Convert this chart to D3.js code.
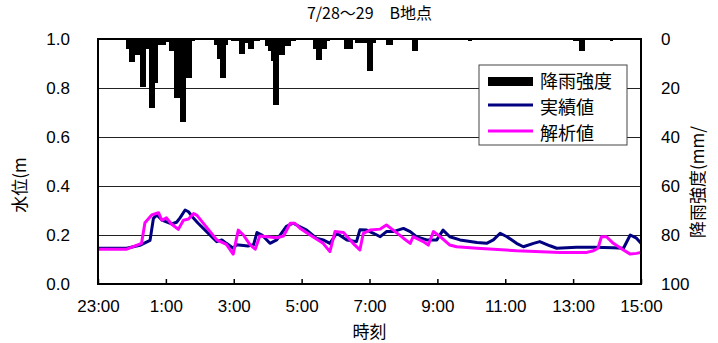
<!DOCTYPE html>
<html>
<head>
<meta charset="utf-8">
<script src="https://cdnjs.cloudflare.com/ajax/libs/d3/7.8.5/d3.min.js"></script>
<style>
  body { margin: 0; background: #fff; }
  svg { display: block; }
  .jp { font-family: "Noto Sans CJK JP", sans-serif; }
</style>
</head>
<body>
<div class="chart"></div>
<script>
/* global d3 */
const title = "7/28～29　B地点";

// x axis tick labels (every 2 hours)
const timeTicks = ["23:00", "1:00", "3:00", "5:00", "7:00", "9:00", "11:00", "13:00", "15:00"];
const levelTicks = [0, 0.2, 0.4, 0.6, 0.8, 1.0];
const rainTicks = [0, 20, 40, 60, 80, 100];

// rainfall intensity (mm/h), 5 minute blocks, only non-zero ones
const rainTimes = ["23:50", "23:55", "0:00", "0:05", "0:10", "0:15", "0:20", "0:25", "0:30", "0:35",
  "0:40", "0:45", "0:50", "0:55", "1:00", "1:05", "1:10", "1:15", "1:20", "1:25",
  "1:30", "1:35", "1:40", "1:45", "1:50", "2:25", "2:30", "2:35", "2:40", "2:45",
  "2:55", "3:00", "3:05", "3:10", "3:15", "3:20", "3:25", "3:30", "3:35", "3:40",
  "3:55", "4:00", "4:05", "4:10", "4:15", "4:20", "4:25", "4:30", "4:35", "4:40",
  "4:45", "5:20", "5:25", "5:30", "5:35", "5:40", "5:45", "6:15", "6:20", "6:25",
  "6:35", "6:40", "6:45", "6:50", "6:55", "7:00", "7:05", "7:30", "7:35", "8:15",
  "8:20", "9:55", "13:00", "13:05", "13:10", "13:15", "14:05"];
const rainMm = [4, 9.5, 9.5, 6.5, 6.5, 19.5, 19.5, 4, 28, 28,
  18, 2.5, 2.5, 2.5, 1.4, 5, 5, 24, 24, 34,
  34, 16, 16, 1, 0.5, 2.5, 8, 16, 16, 2.5,
  1, 1, 1, 6, 6, 1.5, 4, 4, 1, 1,
  3, 5, 9, 27, 27, 6.5, 6.5, 3, 3, 1,
  1, 4, 8.5, 8.5, 4, 4, 1, 4, 4, 4,
  1.5, 1.5, 1.5, 1.5, 13, 13, 1.5, 2.5, 2.5, 5,
  5, 1, 1, 1, 5, 5, 1];

// observed water level (m)
const obsTimes = ["23:00", "23:51", "0:14", "0:32", "0:38", "0:44", "0:53", "1:10", "1:19", "1:25",
  "1:34", "1:40", "1:49", "1:57", "2:12", "2:30", "2:39", "2:47", "2:59", "3:05",
  "3:25", "3:35", "3:41", "3:50", "4:04", "4:16", "4:33", "4:45", "5:09", "5:26",
  "5:38", "5:50", "6:02", "6:20", "6:37", "6:43", "6:55", "7:07", "7:19", "7:30",
  "7:42", "8:00", "8:12", "8:23", "8:41", "8:59", "9:10", "9:22", "9:40", "10:10",
  "10:27", "10:39", "10:51", "11:03", "11:20", "11:32", "11:50", "12:01", "12:19", "12:31",
  "13:06", "13:36", "14:11", "14:29", "14:41", "14:52", "15:00"];
const obsLevel = [0.146, 0.146, 0.158, 0.178, 0.268, 0.282, 0.261, 0.245, 0.252, 0.27,
  0.302, 0.295, 0.268, 0.248, 0.214, 0.173, 0.18, 0.166, 0.146, 0.16,
  0.155, 0.16, 0.21, 0.2, 0.166, 0.18, 0.235, 0.248, 0.22, 0.187,
  0.18, 0.166, 0.207, 0.18, 0.173, 0.221, 0.22, 0.207, 0.193, 0.214,
  0.214, 0.227, 0.214, 0.193, 0.18, 0.18, 0.22, 0.193, 0.18, 0.169,
  0.166, 0.18, 0.207, 0.193, 0.166, 0.152, 0.166, 0.173, 0.156, 0.146,
  0.15, 0.15, 0.148, 0.146, 0.2, 0.187, 0.166];

// simulated water level (m)
const simTimes = ["23:00", "23:51", "0:17", "0:23", "0:35", "0:47", "0:53", "1:01", "1:10", "1:22",
  "1:31", "1:40", "1:49", "1:55", "2:30", "2:47", "2:59", "3:08", "3:17", "3:29",
  "3:38", "3:46", "4:16", "4:28", "4:40", "4:48", "4:57", "5:15", "5:38", "5:50",
  "5:59", "6:14", "6:31", "6:43", "6:49", "7:01", "7:19", "7:30", "7:42", "8:00",
  "8:12", "8:17", "8:35", "8:44", "8:53", "9:05", "9:22", "9:34", "10:10", "11:20",
  "12:37", "13:24", "13:36", "13:44", "13:50", "13:59", "14:11", "14:29", "14:41", "14:52",
  "15:00"];
const simLevel = [0.142, 0.142, 0.166, 0.25, 0.282, 0.291, 0.26, 0.27, 0.245, 0.223,
  0.26, 0.265, 0.288, 0.28, 0.18, 0.162, 0.122, 0.22, 0.2, 0.16,
  0.142, 0.196, 0.189, 0.196, 0.248, 0.248, 0.228, 0.2, 0.166, 0.132,
  0.214, 0.21, 0.166, 0.139, 0.207, 0.22, 0.224, 0.241, 0.22, 0.187,
  0.166, 0.193, 0.173, 0.159, 0.214, 0.193, 0.159, 0.152, 0.146, 0.136,
  0.129, 0.129, 0.136, 0.146, 0.193, 0.193, 0.166, 0.139, 0.122, 0.125,
  0.129];

// "H:MM" -> Date, 23:xx is the 28th, the rest the 29th
const toDate = (s) => {
  const [h, m] = s.split(":").map(Number);
  return new Date(2000, 6, h >= 23 ? 28 : 29, h, m);
};

const width = 718, height = 343;
const margin = {top: 39, right: 77, bottom: 59, left: 98};
const plotW = width - margin.left - margin.right;
const plotH = height - margin.top - margin.bottom;

const svg = d3.select(".chart").append("svg")
    .attr("width", width)
    .attr("height", height);

const x = d3.scaleTime()
    .domain([toDate("23:00"), toDate("15:00")])
    .range([margin.left, margin.left + plotW]);
const yL = d3.scaleLinear().domain([0, 1]).range([margin.top + plotH, margin.top]);
const yR = d3.scaleLinear().domain([0, 100]).range([margin.top, margin.top + plotH]);

// grid lines
svg.append("g")
    .selectAll("line")
    .data(levelTicks.slice(1))
  .enter().append("line")
    .attr("x1", margin.left).attr("x2", margin.left + plotW)
    .attr("y1", d => Math.round(yL(d)) + 0.5).attr("y2", d => Math.round(yL(d)) + 0.5)
    .attr("stroke", "#222")
    .attr("stroke-width", 1);

// rain bars hanging from the top
const rain = rainTimes.map((t, i) => ({t: toDate(t), v: rainMm[i]}));
svg.append("g")
    .attr("shape-rendering", "crispEdges")
    .selectAll("rect")
    .data(rain)
  .enter().append("rect")
    .attr("x", d => x(d.t))
    .attr("width", d => x(d3.timeMinute.offset(d.t, 5)) - x(d.t) + 0.4)
    .attr("y", yR(0))
    .attr("height", d => yR(d.v) - yR(0))
    .attr("fill", "#000");

// water level lines
const line = d3.line()
    .x(d => x(d.t))
    .y(d => yL(d.v));

const obs = obsTimes.map((t, i) => ({t: toDate(t), v: obsLevel[i]}));
const sim = simTimes.map((t, i) => ({t: toDate(t), v: simLevel[i]}));

svg.append("path")
    .datum(obs)
    .attr("d", line)
    .attr("fill", "none")
    .attr("stroke", "#000080")
    .attr("stroke-width", 3)
    .attr("stroke-linejoin", "round");

svg.append("path")
    .datum(sim)
    .attr("d", line)
    .attr("fill", "none")
    .attr("stroke", "#ff00ff")
    .attr("stroke-width", 3)
    .attr("stroke-linejoin", "round");

// plot frame
svg.append("rect")
    .attr("x", margin.left).attr("y", margin.top)
    .attr("width", plotW).attr("height", plotH)
    .attr("fill", "none")
    .attr("stroke", "#000")
    .attr("stroke-width", 2);

// axes
const xAxis = d3.axisBottom(x)
    .tickValues(timeTicks.map(toDate))
    .tickFormat(d3.timeFormat("%-H:%M"))
    .tickSizeInner(-5)
    .tickSizeOuter(0)
    .tickPadding(16);

const leftAxis = d3.axisLeft(yL)
    .tickValues(levelTicks)
    .tickFormat(d3.format(".1f"))
    .tickSize(0)
    .tickPadding(28);

const rightAxis = d3.axisRight(yR)
    .tickValues(rainTicks)
    .tickSize(0)
    .tickPadding(20);

const gx = svg.append("g")
    .attr("transform", "translate(0," + (margin.top + plotH) + ")")
    .call(xAxis);
const gl = svg.append("g")
    .attr("transform", "translate(" + margin.left + ",0)")
    .call(leftAxis);
const gr = svg.append("g")
    .attr("transform", "translate(" + (margin.left + plotW) + ",0)")
    .call(rightAxis);

[gx, gl, gr].forEach(g => {
  g.select(".domain").remove();
  g.selectAll("text")
      .attr("fill", "#000")
      .style("font-family", "'Liberation Sans', Arial, sans-serif")
      .style("font-size", "17px");
  g.selectAll("line").attr("stroke", "#000").attr("stroke-width", 1.5);
});

// titles
svg.append("text")
    .attr("class", "jp")
    .attr("x", margin.left + plotW / 2)
    .attr("y", 19)
    .attr("text-anchor", "middle")
    .style("font-size", "16px")
    .text(title);

svg.append("text")
    .attr("class", "jp")
    .attr("x", margin.left + plotW / 2)
    .attr("y", 338)
    .attr("text-anchor", "middle")
    .style("font-size", "17px")
    .text("時刻");

svg.append("text")
    .attr("class", "jp")
    .attr("transform", "translate(26,185) rotate(-90)")
    .attr("text-anchor", "middle")
    .style("font-size", "17px")
    .text("水位(m");

svg.append("text")
    .attr("class", "jp")
    .attr("transform", "translate(704,182) rotate(-90)")
    .attr("text-anchor", "middle")
    .style("font-size", "17px")
    .text("降雨強度(mm/");

// legend
const legend = svg.append("g").attr("transform", "translate(479,65)");
legend.append("rect")
    .attr("width", 148).attr("height", 80)
    .attr("fill", "#fff")
    .attr("stroke", "#444")
    .attr("stroke-width", 1);
legend.append("rect")
    .attr("x", 9).attr("y", 12)
    .attr("width", 45).attr("height", 9)
    .attr("fill", "#000");
legend.append("line")
    .attr("x1", 9).attr("x2", 54).attr("y1", 40).attr("y2", 40)
    .attr("stroke", "#000080").attr("stroke-width", 3);
legend.append("line")
    .attr("x1", 9).attr("x2", 54).attr("y1", 66).attr("y2", 66)
    .attr("stroke", "#ff00ff").attr("stroke-width", 3);
const legendNames = ["降雨強度", "実績値", "解析値"];
legend.selectAll("text.item")
    .data(legendNames)
  .enter().append("text")
    .attr("class", "jp item")
    .attr("x", 61)
    .attr("y", (d, i) => 23 + i * 26)
    .style("font-size", "18px")
    .text(d => d);
</script>
</body>
</html>
